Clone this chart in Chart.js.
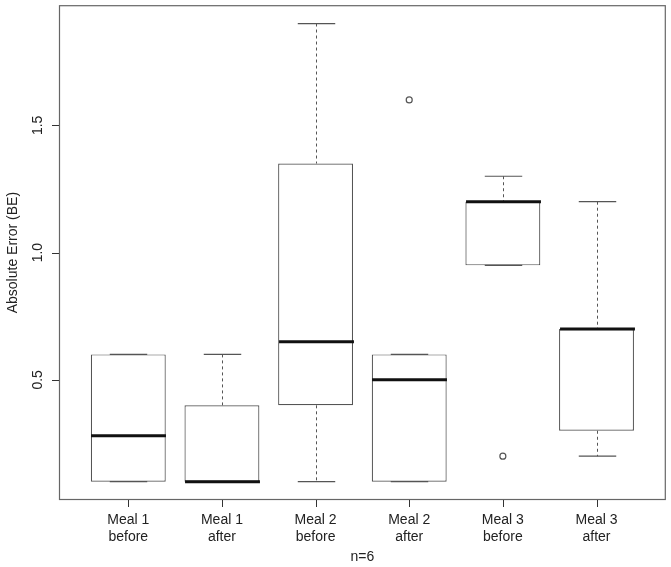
<!DOCTYPE html>
<html>
<head>
<meta charset="utf-8">
<script src="https://cdn.jsdelivr.net/npm/chart.js@4.4.0/dist/chart.umd.min.js"></script>
<style>
  html, body { margin: 0; padding: 0; background: #fff; }
</style>
</head>
<body>
<canvas id="myChart" width="671" height="567"></canvas>
<script>
// boxplot data
const categories = [['Meal 1', 'before'], ['Meal 1', 'after'], ['Meal 2', 'before'],
                    ['Meal 2', 'after'], ['Meal 3', 'before'], ['Meal 3', 'after']];
const whiskerLow  = [0.1, 0.1, 0.1, 0.1, 0.95, 0.2];
const q1          = [0.1, 0.1, 0.4, 0.1, 0.95, 0.3];
const median      = [0.28, 0.1, 0.65, 0.5, 1.2, 0.7];
const q3          = [0.6, 0.4, 1.35, 0.6, 1.2, 0.7];
const whiskerHigh = [0.6, 0.6, 1.9, 0.6, 1.3, 1.2];
const outliers    = [[], [], [], [1.6], [0.2], []];
const yTicks = [0.5, 1.0, 1.5];

const lineColor = '#555';
const textColor = '#222';
const fontFam = '"Liberation Sans", Arial, Helvetica, sans-serif';
const tickLen = 7;

// whiskers, staples, medians
const boxplotExtras = {
  id: 'boxplotExtras',
  afterDatasetsDraw(chart) {
    const ctx = chart.ctx;
    const xs = chart.scales.x, ys = chart.scales.y;
    const boxHalf = (xs.getPixelForValue(1.4) - xs.getPixelForValue(1));
    const stapleHalf = boxHalf / 2;
    ctx.save();
    for (let i = 0; i < categories.length; i++) {
      const x = Math.round(xs.getPixelForValue(i + 1)) + 0.5;
      const yLo = ys.getPixelForValue(whiskerLow[i]);
      const yQ1 = ys.getPixelForValue(q1[i]);
      const yQ3 = ys.getPixelForValue(q3[i]);
      const yHi = ys.getPixelForValue(whiskerHigh[i]);
      // dashed whiskers
      ctx.strokeStyle = lineColor;
      ctx.lineWidth = 1;
      ctx.setLineDash([3, 3]);
      ctx.beginPath();
      ctx.moveTo(x, yHi); ctx.lineTo(x, yQ3);
      ctx.moveTo(x, yQ1); ctx.lineTo(x, yLo);
      ctx.stroke();
      // staples
      ctx.setLineDash([]);
      ctx.lineWidth = 1.2;
      ctx.beginPath();
      ctx.moveTo(x - stapleHalf, yHi); ctx.lineTo(x + stapleHalf, yHi);
      ctx.moveTo(x - stapleHalf, yLo); ctx.lineTo(x + stapleHalf, yLo);
      ctx.stroke();
      // median
      const yM = ys.getPixelForValue(median[i]);
      ctx.strokeStyle = '#111';
      ctx.lineWidth = 3;
      ctx.beginPath();
      ctx.moveTo(x - boxHalf, yM); ctx.lineTo(x + boxHalf, yM);
      ctx.stroke();
    }
    ctx.restore();
  },
  // frame round the plot, tick marks as small filled rects
  afterDraw(chart) {
    const ctx = chart.ctx;
    const xs = chart.scales.x, ys = chart.scales.y;
    const a = chart.chartArea;
    ctx.save();
    ctx.setLineDash([]);
    ctx.strokeStyle = '#666';
    ctx.lineWidth = 1.2;
    ctx.strokeRect(a.left + 0.5, a.top + 0.5, a.right - a.left - 1, a.bottom - a.top - 1);
    ctx.fillStyle = '#333';
    categories.forEach((c, i) => {
      const px = Math.round(xs.getPixelForValue(i + 1));
      ctx.fillRect(px, a.bottom, 1, tickLen);
    });
    yTicks.forEach(v => {
      const py = Math.round(ys.getPixelForValue(v));
      ctx.fillRect(a.left - tickLen, py, tickLen, 1);
    });
    ctx.restore();
  }
};

const ctx = document.getElementById('myChart');

new Chart(ctx, {
  type: 'bar',
  data: {
    datasets: [{
      type: 'bar',
      data: q1.map((v, i) => ({ x: i + 1, y: [v, q3[i]] })),
      backgroundColor: '#fff',
      borderColor: lineColor,
      borderWidth: 1.2,
      borderSkipped: false,
      barPercentage: 0.8,
      categoryPercentage: 1
    }, {
      type: 'scatter',
      data: outliers.flatMap((arr, i) => arr.map(v => ({ x: i + 1, y: v }))),
      pointStyle: 'circle',
      radius: 3,
      borderWidth: 1.2,
      borderColor: lineColor,
      backgroundColor: '#fff'
    }]
  },
  options: {
    responsive: false,
    devicePixelRatio: 1,
    animation: false,
    layout: { padding: { top: 4, right: 4, left: 0, bottom: 0 } },
    plugins: { legend: { display: false }, tooltip: { enabled: false } },
    scales: {
      x: {
        type: 'linear',
        offset: false,
        min: 0.26,
        max: 6.74,
        afterBuildTicks: (scale) => { scale.ticks = categories.map((c, i) => ({ value: i + 1 })); },
        afterFit: (scale) => {
          scale.height = 67;
          scale.paddingLeft = 0; scale.paddingRight = 0;
        },
        grid: { display: false, drawTicks: false },
        border: { display: false },
        ticks: {
          callback: (v) => categories[Math.round(v) - 1],
          color: textColor,
          font: { family: fontFam, size: 14, lineHeight: 1.25 },
          padding: tickLen + 4,
          maxRotation: 0,
          autoSkip: false
        },
        title: {
          display: true,
          text: 'n=6',
          color: textColor,
          font: { family: fontFam, size: 14 },
          padding: { top: 2, bottom: 1 }
        }
      },
      y: {
        min: 0.028,
        max: 1.972,
        afterBuildTicks: (scale) => { scale.ticks = yTicks.map(v => ({ value: v })); },
        afterFit: (scale) => {
          scale.width = 59;
          scale.paddingTop = 0; scale.paddingBottom = 0;
        },
        grid: { display: false, drawTicks: false },
        border: { display: false },
        ticks: {
          callback: (v) => v.toFixed(1),
          color: textColor,
          font: { family: fontFam, size: 14 },
          minRotation: 90,
          maxRotation: 90,
          crossAlign: 'center',
          padding: tickLen + 4
        },
        title: {
          display: true,
          text: 'Absolute Error (BE)',
          color: textColor,
          font: { family: fontFam, size: 14 },
          padding: { top: 5, bottom: 0 }
        }
      }
    }
  },
  plugins: [boxplotExtras]
});
</script>
</body>
</html>
